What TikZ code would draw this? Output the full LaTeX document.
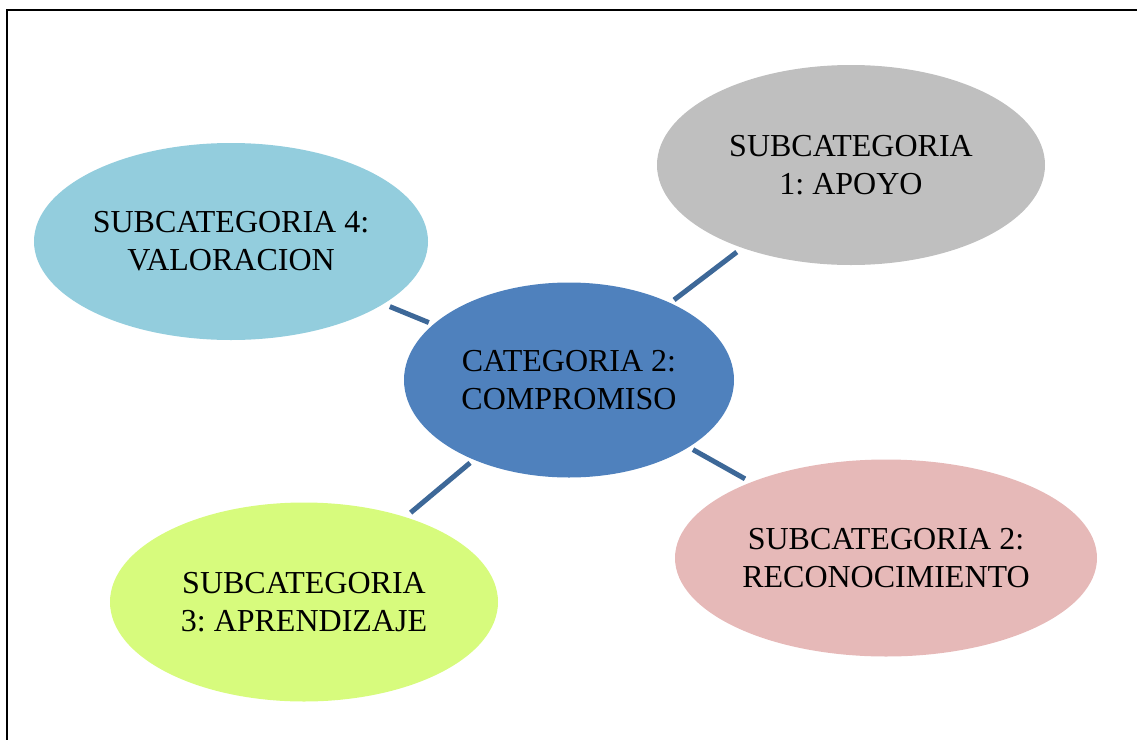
\documentclass[tikz,border=0pt]{standalone}
\usepackage{fontspec}
\setmainfont{Liberation Serif}
\usetikzlibrary{shapes.geometric}

\definecolor{coreblue}{HTML}{4F81BD}
\definecolor{linkblue}{HTML}{3D6898}
\definecolor{subgray}{HTML}{BFBFBF}
\definecolor{subcyan}{HTML}{93CDDD}
\definecolor{subpink}{HTML}{E6B9B8}
\definecolor{sublime}{HTML}{D7FB7D}

\tikzset{
  bubble/.style={ellipse, inner sep=0pt, outer sep=0pt, align=center,
    text=black, font=\fontsize{16}{19}\selectfont\frenchspacing},
  link/.style={draw=linkblue, line width=2.5pt, shorten <=2.5pt, shorten >=3.5pt},
  frame/.style={draw=black, line width=1.2pt}
}

\begin{document}
\begin{tikzpicture}[x=0.5pt, y=-0.5pt]
  \useasboundingbox (0,0) rectangle (1137,740);

  % open frame: only its top and left edges fall inside the page
  \coordinate (fbl) at (7,745);
  \coordinate (ftl) at (7,10);
  \coordinate (ftr) at (1145,10);
  \draw[frame] (fbl) -- (ftl) -- (ftr);

  % central category
  \node[bubble, fill=coreblue, minimum width=165pt, minimum height=97.5pt]
    (core) at (569,380) {CATEGORIA 2:\\COMPROMISO};

  % subcategories
  \node[bubble, fill=subgray, minimum width=194pt, minimum height=100pt]
    (apoyo) at (851,165) {SUBCATEGORIA\\1: APOYO};
  \node[bubble, fill=subcyan, minimum width=197pt, minimum height=98.5pt]
    (valor) at (231,241.5) {SUBCATEGORIA 4:\\VALORACION};
  \node[bubble, fill=subpink, minimum width=211pt, minimum height=98.5pt]
    (recon) at (886,558) {SUBCATEGORIA 2:\\RECONOCIMIENTO};
  \node[bubble, fill=sublime, minimum width=194pt, minimum height=99.5pt]
    (aprend) at (304,602) {SUBCATEGORIA\\3: APRENDIZAJE};

  % connectors
  \draw[link] (core) -- (apoyo);
  \draw[link] (core) -- (valor);
  \draw[link] (core) -- (recon);
  \draw[link] (core) -- (aprend);
\end{tikzpicture}
\end{document}
